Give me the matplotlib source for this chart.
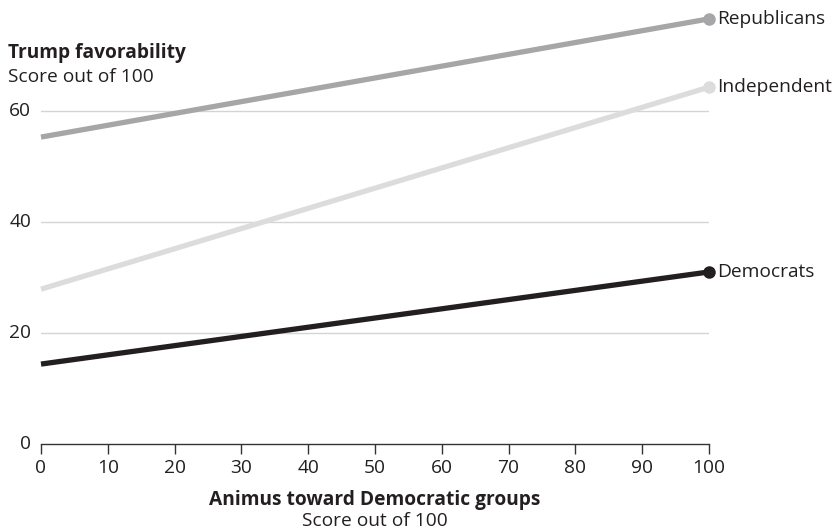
import matplotlib
matplotlib.use("Agg")
import matplotlib.pyplot as plt

plt.rcParams['font.family'] = ['Open Sans', 'DejaVu Sans']

x_vals = [0, 100]
republicans = [55.3, 76.6]
independent = [27.9, 64.3]
democrats = [14.4, 31.0]
series_names = ["Republicans", "Independent", "Democrats"]
series_vals = [republicans, independent, democrats]
colors = ["#a6a6a8", "#dcdcdc", "#231f20"]
xticks = [0, 10, 20, 30, 40, 50, 60, 70, 80, 90, 100]
yticks = [0, 20, 40, 60]

FS = 13.8
W, H = 837, 529
fig = plt.figure(figsize=(W / 100, H / 100), dpi=100)
ax = fig.add_axes([41 / W, 1 - 444 / H, (709 - 41) / W, 444 / H])
ax.set_xlim(0, 100)
ax.set_ylim(0, 444 / 5.55)

for y in yticks[1:]:
    ax.axhline(y, color="#d4d4d4", lw=1, zorder=1)

for name, vals, c in zip(series_names, series_vals, colors):
    ax.plot(x_vals, vals, color=c, lw=3.8, solid_capstyle="butt", zorder=3, clip_on=False)
    ax.plot([x_vals[-1]], [vals[-1]], "o", color=c, ms=8, zorder=4, clip_on=False)
    ax.annotate(name, (x_vals[-1], vals[-1]), xytext=(6, 0), textcoords="offset points",
                va="center", ha="left", fontsize=FS, color="#231f20", annotation_clip=False)

for s in ["top", "right", "left"]:
    ax.spines[s].set_visible(False)
ax.spines["bottom"].set_color("#333333")
ax.spines["bottom"].set_linewidth(1)

ax.set_xticks(xticks)
ax.set_xticklabels([str(t) for t in xticks], fontsize=FS, color="#231f20")
ax.tick_params(axis="x", length=7, width=1, color="#333333", pad=4)
ax.set_yticks(yticks)
ax.set_yticklabels([str(t) for t in yticks], fontsize=FS, color="#231f20")
ax.tick_params(axis="y", length=0, pad=7)
for lbl in ax.get_yticklabels():
    lbl.set_va("center")

fig.text(8 / W, 1 - 53 / H, "Trump favorability", fontsize=FS, fontweight="bold",
         color="#231f20", va="center", ha="left")
fig.text(8 / W, 1 - 77 / H, "Score out of 100", fontsize=FS,
         color="#231f20", va="center", ha="left")
fig.text(375 / W, 1 - 500 / H, "Animus toward Democratic groups", fontsize=FS,
         fontweight="bold", color="#231f20", va="center", ha="center")
fig.text(375 / W, 1 - 521 / H, "Score out of 100", fontsize=FS,
         color="#231f20", va="center", ha="center")

fig.savefig("out.png", dpi=100)
